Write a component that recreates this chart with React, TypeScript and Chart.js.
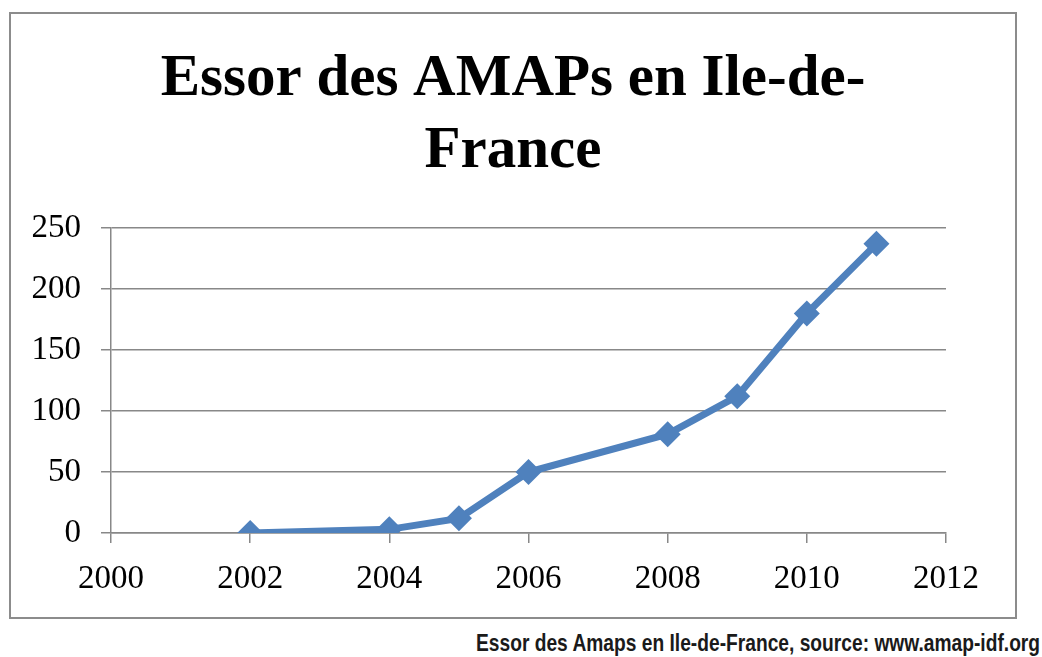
import React, { useEffect, useRef } from "react";
import { Chart, registerables } from "chart.js";

Chart.register(...registerables);

const years = [2002, 2004, 2005, 2006, 2008, 2009, 2010, 2011];
const amapCounts = [0, 3, 12, 50, 81, 112, 180, 237];
const titleLines = ["Essor des AMAPs en Ile-de-", "France"];
const caption = "Essor des Amaps en Ile-de-France, source: www.amap-idf.org";

export default function App() {
  const ref = useRef<HTMLCanvasElement | null>(null);

  useEffect(() => {
    if (!ref.current) return;
    const chart = new Chart(ref.current, {
      type: "line",
      data: {
        datasets: [
          {
            data: years.map((y, i) => ({ x: y, y: amapCounts[i] })),
            borderColor: "#4F81BD",
            backgroundColor: "#4F81BD",
            borderWidth: 7,
            pointStyle: "rectRot",
            pointRadius: 13,
            pointBackgroundColor: "#4F81BD",
            pointBorderColor: "#4F81BD",
            pointBorderWidth: 0,
            tension: 0,
          },
        ],
      },
      options: {
        animation: false,
        responsive: false,
        maintainAspectRatio: false,
        layout: { padding: 0 },
        plugins: {
          legend: { display: false },
          tooltip: { enabled: false },
          title: {
            display: true,
            text: titleLines,
            color: "#000",
            font: { family: "'Liberation Serif', serif", size: 59, weight: "bold", lineHeight: "72px" },
            padding: { top: 30, bottom: 40 },
          },
        },
        scales: {
          x: {
            type: "linear",
            min: 2000,
            max: 2012,
            afterFit: (s: any) => {
              s.height = 84;
            },
            ticks: {
              stepSize: 2,
              padding: 17,
              color: "#000",
              font: { family: "'Liberation Serif', serif", size: 33 },
              callback: (v: any) => String(v),
              maxRotation: 0,
              autoSkip: false,
            },
            grid: { drawOnChartArea: false, drawTicks: true, tickLength: 10, color: "#888", lineWidth: 1.5 },
            border: { display: true, color: "#888", width: 1.5 },
          },
          y: {
            min: 0,
            max: 250,
            afterFit: (s: any) => {
              s.width = 100;
            },
            ticks: {
              stepSize: 50,
              padding: 20,
              color: "#000",
              font: { family: "'Liberation Serif', serif", size: 33 },
            },
            grid: { drawOnChartArea: true, drawTicks: true, tickLength: 10, color: "#888", lineWidth: 1.5 },
            border: { display: true, color: "#888", width: 1.5 },
          },
          spacer: {
            type: "linear",
            position: "right",
            display: true,
            min: 0,
            max: 1,
            afterFit: (s: any) => {
              s.width = 69;
            },
            ticks: { display: false },
            grid: { display: false, drawTicks: false },
            border: { display: false },
          },
        },
      },
    });
    return () => chart.destroy();
  }, []);

  return (
    <div style={{ position: "absolute", left: 0, top: 0, width: 1042, height: 657, background: "#fff", overflow: "hidden" }}>
      <div
        style={{
          position: "absolute",
          left: 9,
          top: 12,
          width: 1004,
          height: 603,
          border: "2px solid #8c8c8c",
        }}
      >
        <canvas ref={ref} width={1004} height={603} style={{ display: "block", width: 1004, height: 603 }} />
      </div>
      <div
        style={{
          position: "absolute",
          right: 2,
          top: 629,
          fontFamily: "'Liberation Sans Narrow', 'Liberation Sans', sans-serif",
          fontWeight: "bold",
          fontSize: 24,
          color: "#1a1a1a",
          whiteSpace: "nowrap",
          lineHeight: "28px",
          transform: "scaleX(0.8)",
          transformOrigin: "right center",
        }}
      >
        {caption}
      </div>
    </div>
  );
}
